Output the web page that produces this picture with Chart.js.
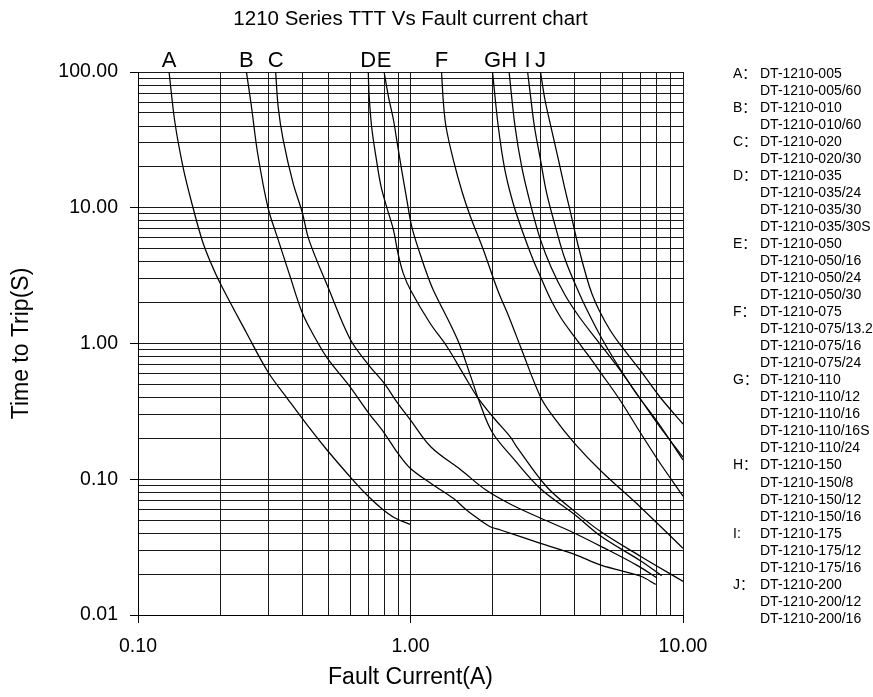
<!DOCTYPE html>
<html><head><meta charset="utf-8">
<script src="https://cdn.jsdelivr.net/npm/chart.js@4.4.1/dist/chart.umd.min.js"></script>
<style>
html,body{margin:0;padding:0;background:#fff;}
#wrap{position:relative;width:873px;height:697px;overflow:hidden;}
#legend{position:absolute;left:0;top:0;width:873px;height:697px;font-family:"Liberation Sans",Arial,"Noto Sans CJK SC",sans-serif;font-size:14px;color:#000;pointer-events:none;}
.row{position:absolute;white-space:nowrap;line-height:17px;height:17px;}
</style></head><body>
<div id="wrap"><canvas id="c" width="873" height="697"></canvas><div id="legend"></div></div>
<script>
// ---- data (fault current in A, time to trip in s) ----
const curveLetters = ['A','B','C','D','E','F','G','H','I','J'];

const aCurrent = [0.13,0.1367,0.1463,0.1565,0.1718,0.1845,0.2,0.25,0.3,0.3567,0.4313,0.4939,0.5922,0.6808,0.7794,0.8771,1.0];
const aTime    = [100,42.1,19.96,11.4,5.79,3.98,2.79,1.2,0.617,0.3835,0.2306,0.1643,0.1075,0.0792,0.0614,0.0518,0.0464];

const bCurrent = [0.25,0.261,0.275,0.3,0.327,0.36,0.4,0.4424,0.495,0.6,0.7,0.8,0.9,1.0,1.2,1.44,1.61,1.8,1.96,2.14,3.0,4.0,5.0,7.0,7.94];
const bTime    = [100,55,25,10,5.8,3.2,1.7,1.136,0.78,0.48,0.31,0.22,0.155,0.12,0.092,0.072,0.059,0.05,0.0447,0.0423,0.0337,0.028,0.0233,0.0193,0.0168];

const cCurrent = [0.32,0.327,0.341,0.371,0.4,0.424,0.5,0.6,0.7,0.8,0.9,1.0,1.189,1.532,1.892,2.358,2.938,3.914,5.13,6.838,8.03];
const cTime    = [100,55,31.6,15.1,9.35,5.8,2.55,1.08,0.7,0.51,0.36,0.273,0.1728,0.117,0.0833,0.0646,0.0527,0.0409,0.0312,0.023,0.0187];

const dCurrent = [0.7,0.704,0.72,0.75,0.78,0.818,0.866,0.9,0.94,1.0,1.18,1.36,1.56,1.75,2.0,2.32,2.45,3.16,4.0,5.0,7.0,10.0];
const dTime    = [100,70,39.5,22.5,14.3,10.1,6.85,4.6,3.3,2.48,1.41,0.95,0.6,0.41,0.29,0.206,0.174,0.088,0.058,0.041,0.027,0.0177];

const eCurrent = [0.8,0.83,0.866,0.89,0.928,0.97,1.01,1.083,1.159,1.212,1.49,1.65,1.8,2.0,2.4,3.0,4.0,5.0,7.0,8.35];
const eTime    = [100,65.8,44.3,31.6,19,11.4,7.3,4.6,3.1,2.48,1.06,0.6,0.36,0.22,0.14,0.085,0.055,0.038,0.025,0.0195];

const fCurrent = [1.30,1.32,1.35,1.436,1.551,1.661,1.846,2.086,2.298,2.544,3.0,3.34,4.0,5.0,7.0,10.0];
const fTime    = [100,60,39.5,22.5,12.84,8.55,4.97,2.49,1.568,0.9265,0.404,0.289,0.184,0.115,0.062,0.031];

const gCurrent = [2.0,2.1,2.22,2.38,2.59,2.82,3.0,3.278,3.567,4.0,4.48,5.0,5.87,6.95,8.23,10.0];
const gTime    = [100,39.5,19,10.8,6.49,4.12,3.1,2.09,1.541,1.117,0.823,0.606,0.3835,0.2228,0.1317,0.0752];

const hCurrent = [2.3,2.42,2.56,2.75,3.0,3.29,3.69,4.19,4.835,5.725,6.895,8.23,10.0];
const hTime    = [100,39.5,20,10.8,5.8,3.6,2.277,1.541,1.061,0.683,0.4036,0.2426,0.1458];

const iCurrent = [2.69,2.75,2.85,3.0,3.16,3.4,3.7,4.171,4.501,5.0,5.605,6.72,8.165,10.0];
const iTime    = [100,69.6,39.5,22.5,12.8,7.3,4.12,2.316,1.678,1.117,0.756,0.4318,0.2553,0.1386];

const jCurrent = [3.0,3.116,3.278,3.493,3.674,3.848,4.135,4.425,4.636,4.917,5.396,5.972,6.952,8.23,10.0];
const jTime    = [100,62.2,39.3,22.4,14.2,9.62,5.14,3.09,2.316,1.765,1.257,0.9424,0.638,0.4036,0.2553];

const xTickValues = [0.1, 1, 10];
const xTickLabels = ['0.10', '1.00', '10.00'];
const yTickValues = [0.01, 0.1, 1, 10, 100];
const yTickLabels = ['0.01', '0.10', '1.00', '10.00', '100.00'];

const legendGroups = [
  ['A：', ['DT-1210-005','DT-1210-005/60']],
  ['B：', ['DT-1210-010','DT-1210-010/60']],
  ['C：', ['DT-1210-020','DT-1210-020/30']],
  ['D：', ['DT-1210-035','DT-1210-035/24','DT-1210-035/30','DT-1210-035/30S']],
  ['E：', ['DT-1210-050','DT-1210-050/16','DT-1210-050/24','DT-1210-050/30']],
  ['F：', ['DT-1210-075','DT-1210-075/13.2','DT-1210-075/16','DT-1210-075/24']],
  ['G：', ['DT-1210-110','DT-1210-110/12','DT-1210-110/16','DT-1210-110/16S','DT-1210-110/24']],
  ['H：', ['DT-1210-150','DT-1210-150/8','DT-1210-150/12','DT-1210-150/16']],
  ['I:', ['DT-1210-175','DT-1210-175/12','DT-1210-175/16']],
  ['J：', ['DT-1210-200','DT-1210-200/12','DT-1210-200/16']]
];

// ---- build ----
const series = [
  [aCurrent,aTime],[bCurrent,bTime],[cCurrent,cTime],[dCurrent,dTime],[eCurrent,eTime],
  [fCurrent,fTime],[gCurrent,gTime],[hCurrent,hTime],[iCurrent,iTime],[jCurrent,jTime]
];
function decadeGrid(lo, hi){
  const out = [];
  for (let e = Math.round(Math.log10(lo)); e < Math.round(Math.log10(hi)); e++){
    for (let m = 1; m <= 9; m++) out.push(parseFloat((m * Math.pow(10, e)).toPrecision(6)));
  }
  out.push(hi);
  return out;
}
function labelFor(values, labels, v){
  for (let k = 0; k < values.length; k++) if (Math.abs(values[k] - v) < values[k] * 1e-6) return labels[k];
  return '';
}
const FONT = '"Liberation Sans", Arial, sans-serif';

const letterPlugin = {
  id: 'curveLetters',
  afterDraw(chart){
    const {ctx, chartArea, scales} = chart;
    ctx.save();
    ctx.font = '22px ' + FONT;
    ctx.fillStyle = '#000';
    ctx.textAlign = 'center';
    ctx.textBaseline = 'alphabetic';
    chart.data.datasets.forEach((ds, i) => {
      const px = scales.x.getPixelForValue(ds.data[0].x);
      ctx.fillText(curveLetters[i], px, chartArea.top - 5);
    });
    ctx.restore();
  }
};

const gridColor = '#1a1a1a';
new Chart(document.getElementById('c'), {
  type: 'line',
  data: {
    datasets: series.map((s, i) => ({
      label: curveLetters[i],
      data: s[0].map((x, k) => ({x: x, y: s[1][k]})),
      borderColor: '#000',
      borderWidth: 1.25,
      pointRadius: 0,
      fill: false,
      tension: 0.35
    }))
  },
  options: {
    responsive: false,
    animation: false,
    layout: {padding: {left: 0, right: 190, top: 0, bottom: 0}},
    plugins: {
      legend: {display: false},
      tooltip: {enabled: false},
      title: {
        display: true,
        fullSize: false,
        text: '1210 Series TTT Vs Fault current chart',
        color: '#000',
        font: {family: FONT, size: 20.5, weight: 'normal'},
        padding: {top: 7, bottom: 40.4}
      }
    },
    scales: {
      x: {
        type: 'logarithmic',
        min: 0.1, max: 10,
        afterFit(s){ s.height = 82; },
        afterBuildTicks(s){ s.ticks = decadeGrid(0.1, 10).map(v => ({value: v})); },
        ticks: {
          autoSkip: false, maxRotation: 0, color: '#000', padding: 12,
          font: {family: FONT, size: 19.5},
          callback: (v) => labelFor(xTickValues, xTickLabels, v)
        },
        grid: {
          color: gridColor, lineWidth: 1, tickLength: 8,
          tickColor: (c) => labelFor(xTickValues, xTickLabels, c.tick.value) ? '#000' : 'rgba(0,0,0,0)'
        },
        border: {display: true, color: '#000', width: 1},
        title: {display: true, text: 'Fault Current(A)', color: '#000', font: {family: FONT, size: 23}, padding: {top: 0, bottom: 6}}
      },
      y: {
        type: 'logarithmic',
        min: 0.01, max: 100,
        afterFit(s){ s.width = 138; },
        afterBuildTicks(s){ s.ticks = decadeGrid(0.01, 100).map(v => ({value: v})); },
        ticks: {
          autoSkip: false, color: '#000', padding: 12,
          font: {family: FONT, size: 19.5},
          callback: (v) => labelFor(yTickValues, yTickLabels, v)
        },
        grid: {
          color: gridColor, lineWidth: 1, tickLength: 8,
          tickColor: (c) => labelFor(yTickValues, yTickLabels, c.tick.value) ? '#000' : 'rgba(0,0,0,0)'
        },
        border: {display: true, color: '#000', width: 1},
        title: {display: true, text: 'Time to Trip(S)', color: '#000', font: {family: FONT, size: 23}, padding: {top: 8, bottom: 0}}
      }
    }
  },
  plugins: [letterPlugin]
});

// ---- legend text at right ----
const legendEl = document.getElementById('legend');
let row = 0;
const rowTop = 64.8, rowStep = 17.03;
legendGroups.forEach(g => {
  g[1].forEach((name, k) => {
    const top = rowTop + row * rowStep;
    if (k === 0) {
      const l = document.createElement('div');
      l.className = 'row'; l.style.left = '733px'; l.style.top = top + 'px';
      l.textContent = g[0];
      legendEl.appendChild(l);
    }
    const n = document.createElement('div');
    n.className = 'row'; n.style.left = '760px'; n.style.top = top + 'px';
    n.textContent = name;
    legendEl.appendChild(n);
    row++;
  });
});
</script>
</body></html>
